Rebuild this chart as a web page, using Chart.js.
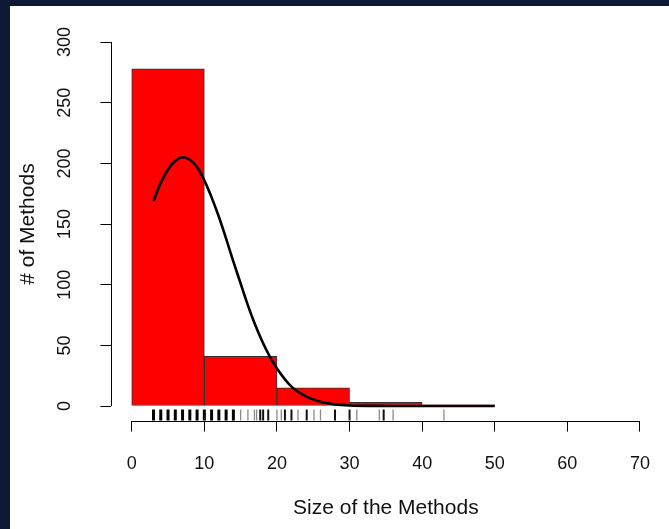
<!DOCTYPE html>
<html>
<head>
<meta charset="utf-8">
<script src="https://cdn.jsdelivr.net/npm/chart.js@4/dist/chart.umd.min.js"></script>
<style>
  html, body { margin: 0; padding: 0; background: #0e1a35; width: 669px; height: 529px; overflow: hidden; }
  #panel { position: absolute; left: 10px; top: 6px; width: 659px; height: 523px; background: #ffffff; }
  canvas { display: block; }
</style>
</head>
<body>
<div id="panel"><canvas id="c" width="659" height="523"></canvas></div>
<script>
// ---- data ----
const binEdges = [0, 10, 20, 30, 40, 50];
const binCounts = [278, 41, 15, 3, 1];

const curveX = [3, 4, 5, 6, 7, 8, 9, 10, 11, 12, 13, 14, 15, 16, 17, 18, 19, 20, 22, 24, 26, 28, 30, 33, 36, 40, 45, 50];
const curveY = [169, 184, 195, 202, 205, 203, 197, 186, 172, 156, 138, 119, 101, 83, 67, 53, 41, 31, 16, 8, 3.5, 1.4, 0.5, 0.1, 0, 0, 0, 0];

const rugHeavy = [3, 4, 5, 6, 7, 8, 9, 10, 11, 12, 13, 14];
const rugMid = [17.7, 18.1, 18.8, 21.1, 22, 24.1, 28, 30, 34.7];
const rugLight = [15, 16, 16.9, 17.2, 20, 20.6, 22.9, 25.1, 26, 31, 34.1, 36, 43];

const xTicks = [0, 10, 20, 30, 40, 50, 60, 70];
const yTicks = [0, 50, 100, 150, 200, 250, 300];

const xTitle = 'Size of the Methods';
const yTitle = '# of Methods';

// ---- build ----
const RUG_Y = -7.4;
const FONT = "'Liberation Sans', Arial, Helvetica, sans-serif";

const barData = binCounts.map((c, i) => ({ x: (binEdges[i] + binEdges[i + 1]) / 2, y: c }));
const curveData = curveX.map((x, i) => ({ x: x, y: curveY[i] }));
const rug = arr => arr.map(x => ({ x: x, y: RUG_Y }));

const axisLines = {
  id: 'axisLines',
  afterDraw(chart) {
    const { ctx, scales: { x, y }, chartArea } = chart;
    ctx.save();
    ctx.strokeStyle = '#000';
    ctx.lineWidth = 1;
    ctx.beginPath();
    const xl = Math.round(chartArea.left) + 0.5;
    ctx.moveTo(xl, y.getPixelForValue(yTicks[0]));
    ctx.lineTo(xl, y.getPixelForValue(yTicks[yTicks.length - 1]));
    const yb = Math.round(chartArea.bottom) + 0.5;
    ctx.moveTo(x.getPixelForValue(xTicks[0]), yb);
    ctx.lineTo(x.getPixelForValue(xTicks[xTicks.length - 1]), yb);
    ctx.stroke();
    ctx.restore();
  }
};

new Chart(document.getElementById('c'), {
  type: 'bar',
  data: {
    datasets: [
      {
        type: 'line', data: curveData, borderColor: '#000', borderWidth: 2.6,
        pointRadius: 0, cubicInterpolationMode: 'monotone', fill: false, order: 0
      },
      {
        type: 'scatter', data: rug(rugHeavy), pointStyle: 'line', rotation: 90, radius: 5.5,
        borderColor: '#000', borderWidth: 3, order: 1, clip: false
      },
      {
        type: 'scatter', data: rug(rugMid), pointStyle: 'line', rotation: 90, radius: 5.5,
        borderColor: '#111', borderWidth: 2, order: 1, clip: false
      },
      {
        type: 'scatter', data: rug(rugLight), pointStyle: 'line', rotation: 90, radius: 5.5,
        borderColor: '#8a8a8a', borderWidth: 1.3, order: 1, clip: false
      },
      {
        type: 'bar', data: barData, backgroundColor: '#ff0000', borderColor: '#333',
        borderWidth: 1, borderSkipped: false, barPercentage: 1, categoryPercentage: 1, order: 2
      }
    ]
  },
  options: {
    responsive: false,
    animation: false,
    events: [],
    layout: { padding: { top: 21.5, right: 8.7, left: 0, bottom: 0 } },
    plugins: { legend: { display: false }, tooltip: { enabled: false } },
    scales: {
      x: {
        type: 'linear', min: -2.8, max: 72.8, offset: false,
        afterBuildTicks: s => { s.ticks = xTicks.map(v => ({ value: v })); },
        afterFit: s => { s.height = 108.4; s.paddingLeft = 0; s.paddingRight = 0; },
        grid: { display: true, offset: false, drawOnChartArea: false, drawTicks: true, tickLength: 11, color: '#000', lineWidth: 1 },
        border: { display: false },
        ticks: { font: { family: FONT, size: 18 }, color: '#111', padding: 22, maxRotation: 0, minRotation: 0, autoSkip: false },
        title: { display: true, text: xTitle, font: { family: FONT, size: 21, lineHeight: 1 }, color: '#111', padding: { top: 0, bottom: 10 } }
      },
      y: {
        type: 'linear', min: -12, max: 312,
        afterBuildTicks: s => { s.ticks = yTicks.map(v => ({ value: v })); },
        afterFit: s => { s.width = 101.4; s.paddingTop = 0; s.paddingBottom = 0; },
        grid: { display: true, drawOnChartArea: false, drawTicks: true, tickLength: 11, color: '#000', lineWidth: 1 },
        border: { display: false },
        ticks: { font: { family: FONT, size: 18 }, color: '#111', padding: 20, minRotation: 90, maxRotation: 90, crossAlign: 'center', autoSkip: false },
        title: { display: true, text: yTitle, font: { family: FONT, size: 21, lineHeight: 1 }, color: '#111', padding: { top: 8, bottom: 0 } }
      }
    }
  },
  plugins: [axisLines]
});
</script>
</body>
</html>
